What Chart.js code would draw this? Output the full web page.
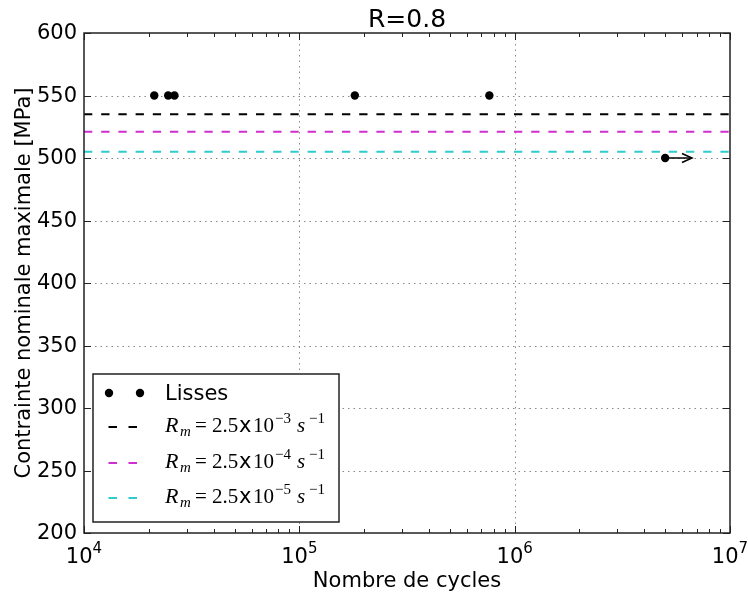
<!DOCTYPE html>
<html>
<head>
<meta charset="utf-8">
<script src="https://cdn.jsdelivr.net/npm/chart.js@4/dist/chart.umd.min.js"></script>
<style>
html,body{margin:0;padding:0;background:#fff;}
#wrap{width:748px;height:594px;}
</style>
</head>
<body>
<div id="wrap"><canvas id="c" width="748" height="594"></canvas></div>
<script>
// ---- data ----
const lisseCycles = [21200, 24600, 26300, 181000, 763000, 5000000];
const lisseStress = [550, 550, 550, 550, 550, 500];
const rateExponents = ['3', '4', '5'];
const rateStress = [535, 521, 505];
const arrowCycles = [5000000, 6660000];
const arrowStress = [500, 500];
const xRange = [1e4, 1e7];
const xTickExponents = [4, 5, 6, 7];
const yTicks = [200, 250, 300, 350, 400, 450, 500, 550, 600];
const titleText = 'R=0.8';
const xTitle = 'Nombre de cycles';
const yTitle = 'Contrainte nominale maximale [MPa]';
const lisseLabel = 'Lisses';

// ---- styles ----
const rateColors = ['#000000', '#d02ed0', '#2ecccc'];
const SANS = "'DejaVu Sans'";
const SERIF = "'Liberation Serif'";

const datasets = [{
  label: lisseLabel,
  data: lisseCycles.map((x, i) => ({x, y: lisseStress[i]})),
  showLine: false,
  pointRadius: 4.2,
  pointHoverRadius: 4.2,
  pointBackgroundColor: '#000',
  pointBorderColor: '#000',
  pointBorderWidth: 0
}];
rateStress.forEach((s, i) => {
  datasets.push({
    label: 'R' + i,
    data: [{x: xRange[0], y: s}, {x: xRange[1], y: s}],
    showLine: true,
    borderColor: rateColors[i],
    borderWidth: 2,
    borderDash: [8.3, 8.9],
    pointRadius: 0,
    fill: false
  });
});

function drawMathLabel(ctx, exp, base) {
  ctx.fillStyle = '#000';
  ctx.textAlign = 'left';
  ctx.textBaseline = 'alphabetic';
  ctx.font = 'italic 22px ' + SERIF; ctx.fillText('R', 165, base);
  ctx.font = 'italic 15px ' + SERIF; ctx.fillText('m', 180, base + 4);
  ctx.font = '21px ' + SERIF; ctx.fillText('=', 195, base);
  ctx.fillText('2.5', 212, base);
  ctx.font = '21px ' + SANS; ctx.fillText('x', 239, base);
  ctx.font = '21px ' + SERIF; ctx.fillText('10', 253, base);
  ctx.font = '15px ' + SERIF; ctx.fillText('\u2212' + exp, 275, base - 9);
  ctx.font = 'italic 21px ' + SERIF; ctx.fillText('s', 297, base);
  ctx.font = '15px ' + SERIF; ctx.fillText('\u22121', 309, base - 9);
}

const mplPlugin = {
  id: 'mpl',
  beforeDatasetsDraw(chart) {
    const ctx = chart.ctx, xs = chart.scales.x, ys = chart.scales.y, a = chart.chartArea;
    ctx.save();
    ctx.strokeStyle = '#8a8a8a';
    ctx.lineWidth = 1;
    ctx.setLineDash([1.5, 4]);
    yTicks.forEach(v => {
      if (v === yTicks[0] || v === yTicks[yTicks.length - 1]) return;
      const y = Math.round(ys.getPixelForValue(v)) + 0.5;
      ctx.beginPath(); ctx.moveTo(a.left, y); ctx.lineTo(a.right, y); ctx.stroke();
    });
    xTickExponents.slice(1, -1).forEach(e => {
      const x = Math.round(xs.getPixelForValue(Math.pow(10, e))) + 0.5;
      ctx.beginPath(); ctx.moveTo(x, a.top); ctx.lineTo(x, a.bottom); ctx.stroke();
    });
    ctx.restore();
  },
  afterDatasetsDraw(chart) {
    const ctx = chart.ctx, xs = chart.scales.x, ys = chart.scales.y, a = chart.chartArea;
    ctx.save();
    // run-out arrow
    const ax0 = xs.getPixelForValue(arrowCycles[0]), ax1 = xs.getPixelForValue(arrowCycles[1]);
    const ay = ys.getPixelForValue(arrowStress[0]);
    ctx.strokeStyle = '#000'; ctx.lineWidth = 1.5; ctx.setLineDash([]);
    ctx.beginPath(); ctx.moveTo(ax0, ay); ctx.lineTo(ax1, ay); ctx.stroke();
    ctx.beginPath(); ctx.moveTo(ax1 - 10, ay - 4.5); ctx.lineTo(ax1, ay); ctx.lineTo(ax1 - 10, ay + 4.5); ctx.stroke();

    // ticks
    ctx.strokeStyle = '#222'; ctx.lineWidth = 1;
    for (let e = xTickExponents[0]; e <= xTickExponents[xTickExponents.length - 1]; e++) {
      for (let m = 1; m <= 9; m++) {
        const v = m * Math.pow(10, e);
        if (v > xRange[1]) break;
        const x = Math.round(xs.getPixelForValue(v)) + 0.5;
        const len = m === 1 ? 7 : 4;
        ctx.beginPath(); ctx.moveTo(x, a.bottom); ctx.lineTo(x, a.bottom - len); ctx.stroke();
        ctx.beginPath(); ctx.moveTo(x, a.top); ctx.lineTo(x, a.top + len); ctx.stroke();
      }
    }
    yTicks.forEach(v => {
      const y = Math.round(ys.getPixelForValue(v)) + 0.5;
      ctx.beginPath(); ctx.moveTo(a.left, y); ctx.lineTo(a.left + 7, y); ctx.stroke();
      ctx.beginPath(); ctx.moveTo(a.right, y); ctx.lineTo(a.right - 7, y); ctx.stroke();
    });
    // frame
    ctx.strokeStyle = '#222'; ctx.lineWidth = 1.5;
    ctx.strokeRect(a.left, a.top, a.right - a.left, a.bottom - a.top);

    // tick labels
    ctx.fillStyle = '#000';
    ctx.font = '21px ' + SANS;
    ctx.textAlign = 'right'; ctx.textBaseline = 'middle';
    yTicks.forEach(v => { ctx.fillText(String(v), a.left - 7, ys.getPixelForValue(v) + 1); });
    ctx.textBaseline = 'alphabetic';
    xTickExponents.forEach(e => {
      const x = xs.getPixelForValue(Math.pow(10, e));
      ctx.font = '21px ' + SANS;
      const w1 = ctx.measureText('10').width;
      ctx.font = '15px ' + SANS;
      const w2 = ctx.measureText(String(e)).width;
      const x0 = x - (w1 + w2) / 2;
      ctx.textAlign = 'left';
      ctx.font = '21px ' + SANS; ctx.fillText('10', x0, 563);
      ctx.font = '15px ' + SANS; ctx.fillText(String(e), x0 + w1, 553);
    });
    // axis titles
    ctx.font = '21px ' + SANS; ctx.textAlign = 'center';
    ctx.fillText(xTitle, (a.left + a.right) / 2, 587);
    ctx.font = '25px ' + SANS;
    ctx.fillText(titleText, (a.left + a.right) / 2, 27);
    ctx.save();
    ctx.translate(30, (a.top + a.bottom) / 2);
    ctx.rotate(-Math.PI / 2);
    ctx.font = '21px ' + SANS;
    ctx.fillText(yTitle, 0, 0);
    ctx.restore();

    // legend
    ctx.fillStyle = '#fff';
    ctx.fillRect(93, 374, 246, 148);
    ctx.strokeStyle = '#222'; ctx.lineWidth = 1.5;
    ctx.strokeRect(93, 374, 246, 148);
    ctx.fillStyle = '#000';
    [109, 140].forEach(px => { ctx.beginPath(); ctx.arc(px, 393, 4.2, 0, Math.PI * 2); ctx.fill(); });
    ctx.font = '21px ' + SANS; ctx.textAlign = 'left';
    ctx.fillText(lisseLabel, 165, 400);
    const rowY = [427, 463, 498];
    rateExponents.forEach((e, i) => {
      ctx.strokeStyle = rateColors[i]; ctx.lineWidth = 2; ctx.setLineDash([8.5, 11.5]);
      ctx.beginPath(); ctx.moveTo(108.5, rowY[i]); ctx.lineTo(137, rowY[i]); ctx.stroke();
      ctx.setLineDash([]);
      drawMathLabel(ctx, e, rowY[i] + 5);
    });
    ctx.restore();
  }
};

new Chart(document.getElementById('c'), {
  type: 'scatter',
  data: {datasets},
  plugins: [mplPlugin],
  options: {
    responsive: false,
    animation: false,
    devicePixelRatio: 1,
    layout: {padding: {left: 84, right: 18, top: 33, bottom: 61}},
    plugins: {legend: {display: false}, tooltip: {enabled: false}, title: {display: false}},
    scales: {
      x: {
        type: 'logarithmic', min: xRange[0], max: xRange[1],
        ticks: {display: false}, grid: {display: false, drawTicks: false}, border: {display: false},
        afterFit(s) { s.height = 0; }
      },
      y: {
        type: 'linear', min: yTicks[0], max: yTicks[yTicks.length - 1],
        ticks: {display: false, stepSize: 50}, grid: {display: false, drawTicks: false}, border: {display: false},
        afterFit(s) { s.width = 0; }
      }
    }
  }
});
</script>
</body>
</html>
